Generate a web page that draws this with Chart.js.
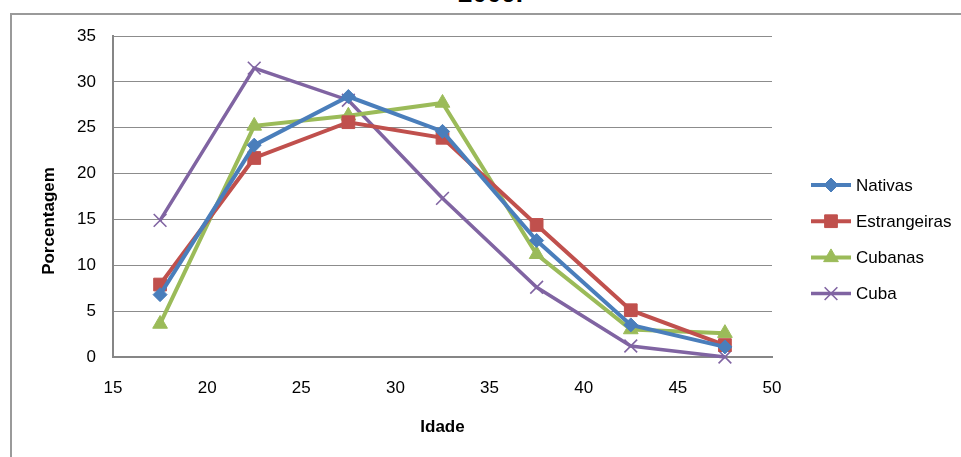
<!DOCTYPE html>
<html>
<head>
<meta charset="utf-8">
<title>Idade e porcentagem</title>
<script src="https://cdn.jsdelivr.net/npm/chart.js@4.4.1/dist/chart.umd.min.js"></script>
<style>
  html, body { margin: 0; padding: 0; background: #fff; overflow: hidden; width: 961px; height: 457px; }
  #frame { position: absolute; left: 10px; top: 13px; width: 1000px; height: 500px;
           border: 2px solid #9a9a9a; box-sizing: border-box; }
  #caption { position: absolute; left: 458px; top: -20px; font: bold 26px/26px "Liberation Sans", Arial, sans-serif;
             color: #000; white-space: nowrap; }
  canvas { position: absolute; left: 0; top: 0; }
</style>
</head>
<body>
<div id="caption">2009.</div>
<div id="frame"></div>
<canvas id="chart" width="961" height="457"></canvas>
<script>
// Age-group midpoints (x) and share of births per group (y, %)
const idades = [17.5, 22.5, 27.5, 32.5, 37.5, 42.5, 47.5];
const nativas = [6.8, 23.1, 28.4, 24.6, 12.7, 3.5, 1.1];
const estrangeiras = [7.9, 21.7, 25.6, 23.9, 14.4, 5.1, 1.3];
const cubanas = [3.6, 25.2, 26.3, 27.7, 11.2, 3.0, 2.6];
const cuba = [14.9, 31.5, 28.0, 17.3, 7.6, 1.2, 0.0];
const seriesNames = ['Nativas', 'Estrangeiras', 'Cubanas', 'Cuba'];
const xTicks = [15, 20, 25, 30, 35, 40, 45, 50];
const yTicks = [0, 5, 10, 15, 20, 25, 30, 35];

const FONT = '"Liberation Sans", Arial, sans-serif';

function pts(values) {
  return idades.map((x, i) => ({ x: x, y: values[i] }));
}

const styles = [
  { color: '#4A7EBB', pointStyle: 'rectRot', radius: 7, width: 4, pointBorder: 1 },
  { color: '#C0504D', pointStyle: 'rect', radius: 9, width: 4, pointBorder: 1 },
  { color: '#9BBB59', pointStyle: 'triangle', radius: 8.5, width: 4, pointBorder: 1 },
  { color: '#8064A2', pointStyle: 'crossRot', radius: 9, width: 3.5, pointBorder: 1.6 }
];
const values = [nativas, estrangeiras, cubanas, cuba];

const datasets = values.map((v, i) => ({
  label: seriesNames[i],
  data: pts(v),
  borderColor: styles[i].color,
  backgroundColor: styles[i].color,
  borderWidth: styles[i].width,
  pointStyle: styles[i].pointStyle,
  pointRadius: styles[i].radius,
  pointHoverRadius: styles[i].radius,
  pointBorderWidth: styles[i].pointBorder,
  pointBackgroundColor: styles[i].color,
  pointBorderColor: styles[i].color,
  tension: 0,
  clip: false
}));

// Legend on the right: line sample with marker, then the series name
const sideLegend = {
  id: 'sideLegend',
  afterDraw(chart) {
    const ctx = chart.ctx;
    const x0 = 811, x1 = 851, top = 185, step = 36.2;
    chart.data.datasets.forEach((ds, i) => {
      const y = top + i * step;
      ctx.save();
      ctx.strokeStyle = ds.borderColor;
      ctx.lineWidth = ds.borderWidth;
      ctx.beginPath();
      ctx.moveTo(x0, y);
      ctx.lineTo(x1, y);
      ctx.stroke();
      ctx.fillStyle = ds.pointBackgroundColor;
      ctx.strokeStyle = ds.pointBorderColor;
      ctx.lineWidth = ds.pointBorderWidth;
      Chart.helpers.drawPoint(ctx, {
        pointStyle: ds.pointStyle, radius: ds.pointRadius, rotation: 0, borderWidth: ds.pointBorderWidth
      }, (x0 + x1) / 2, y);
      ctx.fillStyle = '#000';
      ctx.font = '17px ' + FONT;
      ctx.textAlign = 'left';
      ctx.textBaseline = 'middle';
      ctx.fillText(ds.label, 856, y + 1);
      ctx.restore();
    });
  }
};

// Vertical axis title, placed beside the value labels
const yTitle = {
  id: 'yTitle',
  afterDraw(chart) {
    const t = chart.options.scales.y.title;
    const ctx = chart.ctx;
    ctx.save();
    ctx.translate(49, 221);
    ctx.rotate(-Math.PI / 2);
    ctx.font = 'bold 17px ' + FONT;
    ctx.fillStyle = '#000';
    ctx.textAlign = 'center';
    ctx.textBaseline = 'middle';
    ctx.fillText(t.text, 0, 0);
    ctx.restore();
  }
};

new Chart(document.getElementById('chart'), {
  type: 'line',
  data: { datasets: datasets },
  plugins: [sideLegend, yTitle],
  options: {
    responsive: false,
    animation: false,
    devicePixelRatio: 1,
    layout: { padding: { left: 0, right: 189, top: 36, bottom: 0 } },
    plugins: { legend: { display: false }, tooltip: { enabled: false }, title: { display: false } },
    scales: {
      x: {
        type: 'linear',
        min: xTicks[0],
        max: xTicks[xTicks.length - 1],
        afterBuildTicks(scale) { scale.ticks = xTicks.map(v => ({ value: v })); },
        afterFit(scale) { scale.height = 100; },
        grid: { display: false, drawTicks: false },
        border: { display: true, color: '#868686', width: 2 },
        ticks: { padding: 21, color: '#000', font: { family: FONT, size: 17 } },
        title: { display: true, text: 'Idade', color: '#000', padding: { top: 0, bottom: 19 },
                 font: { family: FONT, size: 17, weight: 'bold' } }
      },
      y: {
        type: 'linear',
        min: yTicks[0],
        max: yTicks[yTicks.length - 1],
        afterBuildTicks(scale) { scale.ticks = yTicks.map(v => ({ value: v })); },
        afterFit(scale) { scale.width = 113; },
        grid: { color: '#8c8c8c', lineWidth: 1, drawTicks: false },
        border: { display: true, color: '#868686', width: 2 },
        ticks: { padding: 17, color: '#000', font: { family: FONT, size: 17 } },
        title: { display: false, text: 'Porcentagem' }
      }
    }
  }
});
</script>
</body>
</html>
